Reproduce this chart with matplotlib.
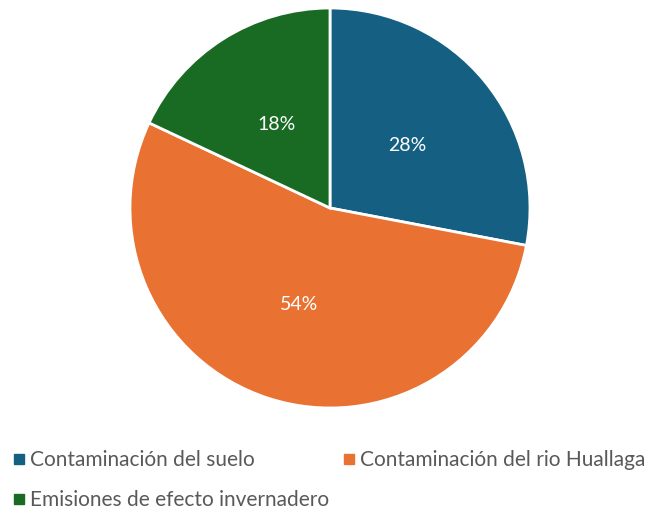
import matplotlib.pyplot as plt
from matplotlib.patches import Rectangle

# datos del grafico
categorias = ["Contaminación del suelo", "Contaminación del rio Huallaga", "Emisiones de efecto invernadero"]
valores = [28, 54, 18]
colores = ["#156082", "#E97132", "#196B24"]

plt.rcParams['font.family'] = ['Lato', 'DejaVu Sans']

W, H = 651, 510
fig = plt.figure(figsize=(W / 100, H / 100), dpi=100)
cx, cy, r = 330, 209, 200
ax = fig.add_axes([(cx - r) / W, (H - cy - r) / H, 2 * r / W, 2 * r / H])

wedges, textos, autotextos = ax.pie(
    valores, colors=colores, startangle=90, counterclock=False,
    autopct='%1.0f%%', pctdistance=0.5, radius=1,
    wedgeprops=dict(edgecolor='white', linewidth=2),
    textprops=dict(color='white', fontsize=14))
ax.set_xlim(-1.0, 1.0)
ax.set_ylim(-1.0, 1.0)
ax.set_aspect('equal')
ax.axis('off')

# leyenda manual (posiciones en pixeles)
pos_leyenda = [(14, 460), (344, 460), (14, 500)]
for (px, py), cat, col in zip(pos_leyenda, categorias, colores):
    fig.patches.append(Rectangle((px / W, (H - py - 5) / H), 10 / W, 10 / H,
                                 color=col, transform=fig.transFigure))
    fig.text((px + 16) / W, (H - py) / H, cat, fontsize=15, color='#595959',
             va='center', ha='left')

fig.savefig("out.png", dpi=100)
